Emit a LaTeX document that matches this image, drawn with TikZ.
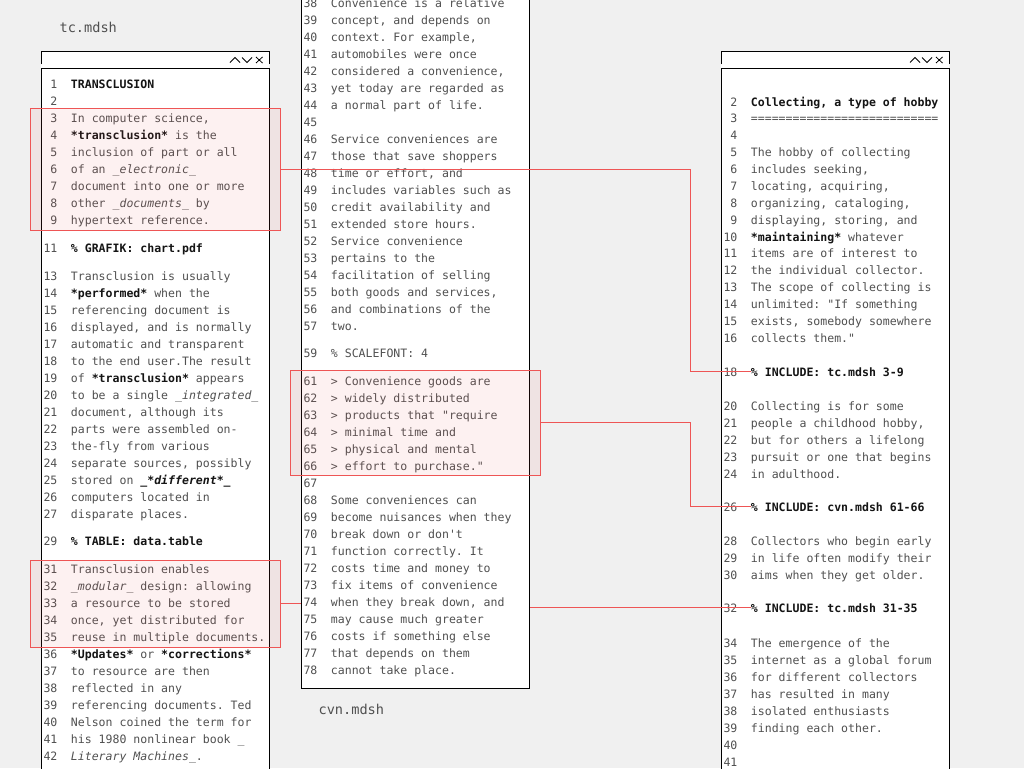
\documentclass[tikz,border=0pt]{standalone}
\usepackage{fontspec}
\setmonofont{DejaVu Sans Mono}
\usetikzlibrary{fit}
\definecolor{desk}{HTML}{F0F0F0}
\definecolor{ink}{HTML}{505050}
\definecolor{darkink}{HTML}{141414}
\definecolor{markred}{HTML}{EE5555}
\newcommand\mdb[1]{{\bfseries\color{darkink}#1}}
\newcommand\mdi[1]{{\itshape #1}}
\newcommand\mdbi[1]{{\bfseries\itshape\color{darkink}#1}}

\begin{document}
\begin{tikzpicture}[x=0.75pt, y=-0.75pt,
  panel/.style={draw=black, fill=white, line width=0.75pt},
  lineno/.style={anchor=base east, inner sep=0pt, text=ink, font=\ttfamily\fontsize{8.65}{10}\selectfont},
  codeline/.style={anchor=base west, inner sep=0pt, text=ink, font=\ttfamily\fontsize{8.65}{10}\selectfont},
  filename/.style={anchor=base west, inner sep=0pt, text=ink, font=\ttfamily\fontsize{10.2}{12}\selectfont},
  hilite/.style={draw=markred, fill=markred, fill opacity=0.08, line width=0.75pt, inner sep=0pt},
  link/.style={draw=markred, line width=0.75pt}]
  \clip (0,0) rectangle (1024,768);
  \fill[desk] (0,0) rectangle (1024,768);

  % file windows left and right
  \foreach \px in {41,721}{
    \fill[white] (\px,51) rectangle (\px+228,68);
    \draw[line width=0.75pt] (\px,64) |- (\px+228,51) -- (\px+228,64);
    \draw[panel] (\px,68) rectangle (\px+228,790);
    \draw[line width=0.6pt] (\px+189,62.5) -- (\px+194,57.5) -- (\px+199,62.5);
    \draw[line width=0.6pt] (\px+201,57.5) -- (\px+206,62.5) -- (\px+211,57.5);
    \draw[line width=0.6pt] (\px+215,57) -- (\px+221.5,63) (\px+215,63) -- (\px+221.5,57);
  }
  \node[filename] (tcname) at (59.3,32) {tc.mdsh};

  % tc.mdsh
  \foreach \n/\y/\txt in {1/84/{\mdb{TRANSCLUSION}}, 2/101/{}, 3/118/{In computer science,},
      4/135/{\mdb{*transclusion*} is the}, 5/152/{inclusion of part or all},
      6/169/{of an \mdi{\_electronic\_}}, 7/186/{document into one or more},
      8/203/{other \mdi{\_documents\_} by}, 9/220/{hypertext reference.},
      11/248/{\mdb{\% GRAFIK: chart.pdf}},
      13/276/{Transclusion is usually}, 14/293/{\mdb{*performed*} when the},
      15/310/{referencing document is}, 16/327/{displayed, and is normally},
      17/344/{automatic and transparent}, 18/361/{to the end user.The result},
      19/378/{of \mdb{*transclusion*} appears}, 20/395/{to be a single \mdi{\_integrated\_}},
      21/412/{document, although its}, 22/429/{parts were assembled on-},
      23/446/{the-fly from various}, 24/463/{separate sources, possibly},
      25/480/{stored on \mdbi{\_*different*\_}}, 26/497/{computers located in},
      27/514/{disparate places.},
      29/541/{\mdb{\% TABLE: data.table}},
      31/569/{Transclusion enables}, 32/586/{\mdi{\_modular\_} design: allowing},
      33/603/{a resource to be stored}, 34/620/{once, yet distributed for},
      35/637/{reuse in multiple documents.}, 36/654/{\mdb{*Updates*} or \mdb{*corrections*}},
      37/671/{to resource are then}, 38/688/{reflected in any},
      39/705/{referencing documents. Ted}, 40/722/{Nelson coined the term for},
      41/739/{his 1980 nonlinear book \_}, 42/756/{\mdi{Literary Machines\_}.}}{
    \node[lineno] (tc\n n) at (57.7,\y+4) {\n};
    \node[codeline] (tc\n) at (70.7,\y+4) {\txt};
  }

  % collecting document
  \foreach \n/\y/\txt in {2/102/{\mdb{Collecting, a type of hobby}}, 3/118/{===========================},
      4/135/{}, 5/152/{The hobby of collecting}, 6/169/{includes seeking,},
      7/186/{locating, acquiring,}, 8/203/{organizing, cataloging,},
      9/220/{displaying, storing, and}, 10/237/{\mdb{*maintaining*} whatever},
      11/253/{items are of interest to}, 12/270/{the individual collector.},
      13/287/{The scope of collecting is}, 14/304/{unlimited: "If something},
      15/321/{exists, somebody somewhere}, 16/338/{collects them."},
      18/372/{\mdb{\% INCLUDE: tc.mdsh 3-9}},
      20/406/{Collecting is for some}, 21/423/{people a childhood hobby,},
      22/440/{but for others a lifelong}, 23/457/{pursuit or one that begins},
      24/474/{in adulthood.},
      26/507/{\mdb{\% INCLUDE: cvn.mdsh 61-66}},
      28/541/{Collectors who begin early}, 29/558/{in life often modify their},
      30/575/{aims when they get older.},
      32/608/{\mdb{\% INCLUDE: tc.mdsh 31-35}},
      34/643/{The emergence of the}, 35/660/{internet as a global forum},
      36/677/{for different collectors}, 37/694/{has resulted in many},
      38/711/{isolated enthusiasts}, 39/728/{finding each other.},
      40/745/{}, 41/762/{}}{
    \node[lineno] (hb\n n) at (737.7,\y+4) {\n};
    \node[codeline] (hb\n) at (750.7,\y+4) {\txt};
  }

  % marked ranges in tc.mdsh
  \node[hilite, fit={(30,108.3) (280,230)}] (markA) {};
  \node[hilite, fit={(30,560.3) (280,647.3)}] (markB) {};

  \coordinate (bus) at (690,0);
  \coordinate (jog) at (415,0);
  \draw[link] (markB.east) -- (markB.east -| jog) |- (hb32.west);

  % cvn.mdsh
  \draw[panel] (301,-5) rectangle (529,688);
  \node[filename] (cvnname) at (318.3,714) {cvn.mdsh};
  \foreach \n/\y/\txt in {38/3/{Convenience is a relative}, 39/20/{concept, and depends on},
      40/37/{context. For example,}, 41/54/{automobiles were once},
      42/71/{considered a convenience,}, 43/88/{yet today are regarded as},
      44/105/{a normal part of life.}, 45/122/{},
      46/139/{Service conveniences are}, 47/156/{those that save shoppers},
      48/173/{time or effort, and}, 49/190/{includes variables such as},
      50/207/{credit availability and}, 51/224/{extended store hours.},
      52/241/{Service convenience}, 53/258/{pertains to the},
      54/275/{facilitation of selling}, 55/292/{both goods and services,},
      56/309/{and combinations of the}, 57/326/{two.},
      59/353/{\% SCALEFONT: 4},
      61/381/{> Convenience goods are}, 62/398/{> widely distributed},
      63/415/{> products that "require}, 64/432/{> minimal time and},
      65/449/{> physical and mental}, 66/466/{> effort to purchase."},
      67/483/{}, 68/500/{Some conveniences can}, 69/517/{become nuisances when they},
      70/534/{break down or don't}, 71/551/{function correctly. It},
      72/568/{costs time and money to}, 73/585/{fix items of convenience},
      74/602/{when they break down, and}, 75/619/{may cause much greater},
      76/636/{costs if something else}, 77/653/{that depends on them},
      78/670/{cannot take place.}}{
    \node[lineno] (cvn\n n) at (317.7,\y+4) {\n};
    \node[codeline] (cvn\n) at (330.7,\y+4) {\txt};
  }
  \node[hilite, fit={(290,370.7) (540,475)}] (markC) {};

  % includes
  \draw[link] (markA.east) -- (markA.east -| bus) |- (hb18.west);
  \draw[link] (markC.east) -- (markC.east -| bus) |- (hb26.west);
\end{tikzpicture}
\end{document}
